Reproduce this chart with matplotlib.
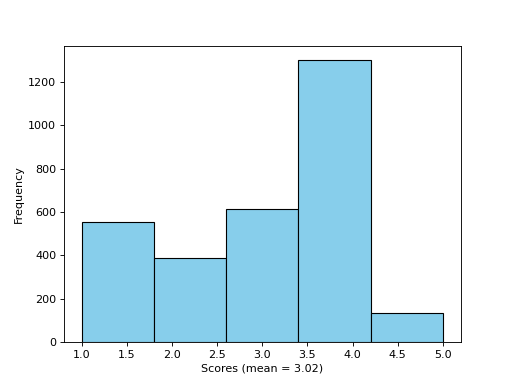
import numpy as np
import matplotlib.pyplot as plt

bin_edges = [1.0, 1.8, 2.6, 3.4, 4.2, 5.0]
counts = [554, 389, 612, 1302, 134]
mean_score = 3.02

centers = [(bin_edges[i] + bin_edges[i + 1]) / 2 for i in range(len(counts))]

plt.figure(figsize=(6.4, 4.8), dpi=80)
plt.hist(centers, bins=bin_edges, weights=counts, color='skyblue', edgecolor='black')
plt.xlabel('Scores (mean = %.2f)' % mean_score)
plt.ylabel('Frequency')
plt.savefig('out.png', dpi=80)
